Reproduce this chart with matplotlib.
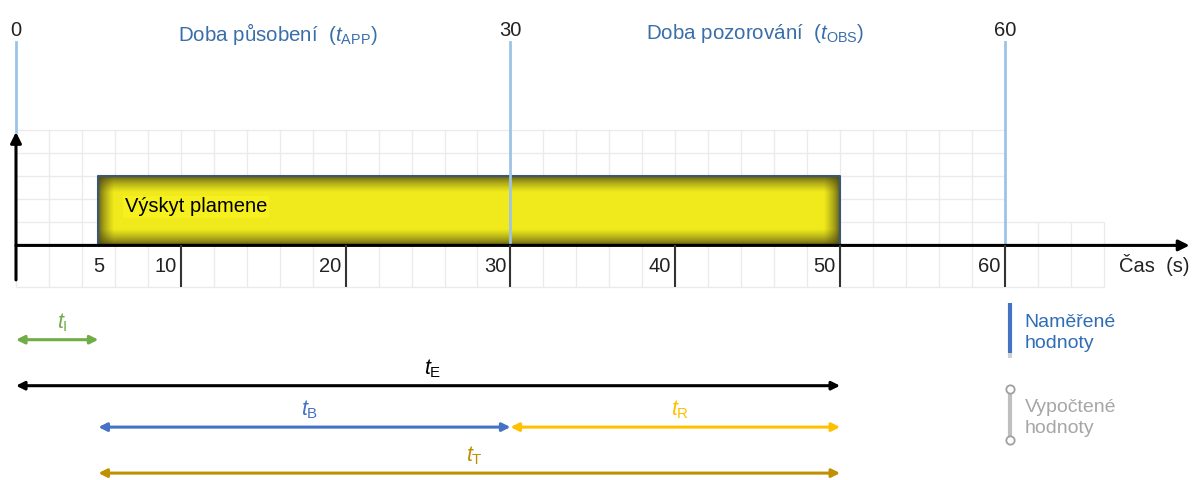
import numpy as np
import matplotlib
matplotlib.use("Agg")
import matplotlib.pyplot as plt
from matplotlib.colors import to_rgb

plt.rcParams['font.family'] = ['Liberation Sans', 'DejaVu Sans']
plt.rcParams['mathtext.fontset'] = 'custom'
plt.rcParams['mathtext.rm'] = 'Liberation Sans'
plt.rcParams['mathtext.it'] = 'Liberation Sans:italic'

# hodnoty z obrazku
znacky_nahore = [0, 30, 60]
znacky_osa = [10, 20, 30, 40, 50, 60]
plamen_od, plamen_do = 5, 50
faze_text = ['Doba působení  ($t_{\\mathrm{APP}}$)', 'Doba pozorování  ($t_{\\mathrm{OBS}}$)']
faze_x = [9.8, 38.2]

useky_nazev = ['I', 'E', 'B', 'R', 'T']
useky_od = [0, 0, 5, 30, 5]
useky_do = [5, 50, 30, 50, 50]
useky_barva = ['#70AD47', '#000000', '#4472C4', '#FFC000', '#BF9000']
useky_y = [-4.1, -6.1, -7.9, -7.9, -9.9]

fig = plt.figure(figsize=(11.92, 4.8), dpi=100)
ax = fig.add_axes([0, 0, 1, 1])
ax.set_xlim(-0.97, 71.35)
ax.set_ylim(-10.2, 10.67)
ax.axis('off')

# mrizka
mriz = '#EBEBEB'
ax.vlines(np.arange(0, 61, 2), -1.8, 5, color=mriz, lw=1, zorder=0)
ax.hlines(np.arange(0, 6, 1), 0, 60, color=mriz, lw=1, zorder=0)
ax.hlines([-1.8], 0, 66, color=mriz, lw=1, zorder=0)
ax.hlines([1], 60, 66, color=mriz, lw=1, zorder=0)
ax.vlines([62, 64, 66], -1.8, 1, color=mriz, lw=1, zorder=0)

# vyskyt plamene - zluty obdelnik s tmavym okrajem
W, H = 742, 69
xx = np.arange(W) + 0.5
yy = np.arange(H) + 0.5
fx = np.clip(np.minimum(xx, W - xx) / 16.0, 0, 1)
fy = np.clip(np.minimum(yy, H - yy) / 16.0, 0, 1)
t = (np.outer(fy, fx)) ** 0.6
okraj = np.array(to_rgb('#4A4612'))
stred = np.array(to_rgb('#F0EA1C'))
img = okraj[None, None, :] * (1 - t[..., None]) + stred[None, None, :] * t[..., None]
ax.imshow(img, extent=(plamen_od, plamen_do, 0, 3), aspect='auto', zorder=2, interpolation='bilinear')
ax.plot([plamen_od, plamen_od, plamen_do, plamen_do], [0, 3, 3, 0], color='#3B5676', lw=1.5, zorder=3)
ax.text(6.6, 1.67, 'Výskyt plamene', fontsize=14.5, color='black', va='center', ha='left', zorder=4,
        bbox=dict(facecolor='#F5F01E', edgecolor='none', pad=1))

# svisle modre cary
modra_svetla = '#9DC3E6'
for x in znacky_nahore:
    y0 = 4.93 if x == 0 else 0
    ax.plot([x, x], [y0, 8.85], color=modra_svetla, lw=2, zorder=5)
    ax.text(x, 9.35, str(x), fontsize=14.5, ha='center', va='center', color='#222222')

for txt, x in zip(faze_text, faze_x):
    ax.text(x, 9.2, txt, fontsize=14.8, ha='left', va='center', color='#3A6EAA')

# osy
ax.annotate('', xy=(71.2, 0), xytext=(0, 0),
            arrowprops=dict(arrowstyle='-|>', color='black', lw=2.2, mutation_scale=16, shrinkA=0, shrinkB=0),
            zorder=6)
ax.annotate('', xy=(0, 4.93), xytext=(0, -1.5),
            arrowprops=dict(arrowstyle='-|>', color='black', lw=2.2, mutation_scale=16, shrinkA=0, shrinkB=0),
            zorder=6)
ax.vlines(znacky_osa, -1.8, 0, color='#333333', lw=1.5, zorder=6)
ax.text(5, -0.9, '5', fontsize=14.5, ha='center', va='center', color='#222222')
for x in znacky_osa:
    ax.text(x - 0.25, -0.9, str(x), fontsize=14.5, ha='right', va='center', color='#222222')
ax.text(71.2, -0.85, 'Čas  (s)', fontsize=14.5, ha='right', va='center', color='#222222')

# useky casu
for n, a, b, c, y in zip(useky_nazev, useky_od, useky_do, useky_barva, useky_y):
    ax.annotate('', xy=(b, y), xytext=(a, y),
                arrowprops=dict(arrowstyle='<|-|>', color=c, lw=2.2, mutation_scale=12, shrinkA=0, shrinkB=0))
    ax.text((a + b) / 2 + 0.3, y + 0.75, '$t_{\\mathrm{%s}}$' % n, fontsize=15.5, ha='center', va='center', color=c)

# legenda
ax.plot([60.3, 60.3], [-2.5, -4.67], color='#4472C4', lw=3, solid_capstyle='butt')
ax.plot([60.3, 60.3], [-4.67, -4.9], color='#D0D0D0', lw=3, solid_capstyle='butt')
ax.text(61.2, -3.8, 'Naměřené\nhodnoty', fontsize=14, ha='left', va='center', color='#2F6DB5', linespacing=1.35)
ax.plot([60.3, 60.3], [-6.25, -8.45], color='#BFBFBF', lw=3, marker='o', markersize=6,
        markerfacecolor='white', markeredgecolor='#A0A0A0', markeredgewidth=1.3)
ax.text(61.2, -7.5, 'Vypočtené\nhodnoty', fontsize=14, ha='left', va='center', color='#A6A6A6', linespacing=1.35)

fig.savefig('out.png', dpi=100)
